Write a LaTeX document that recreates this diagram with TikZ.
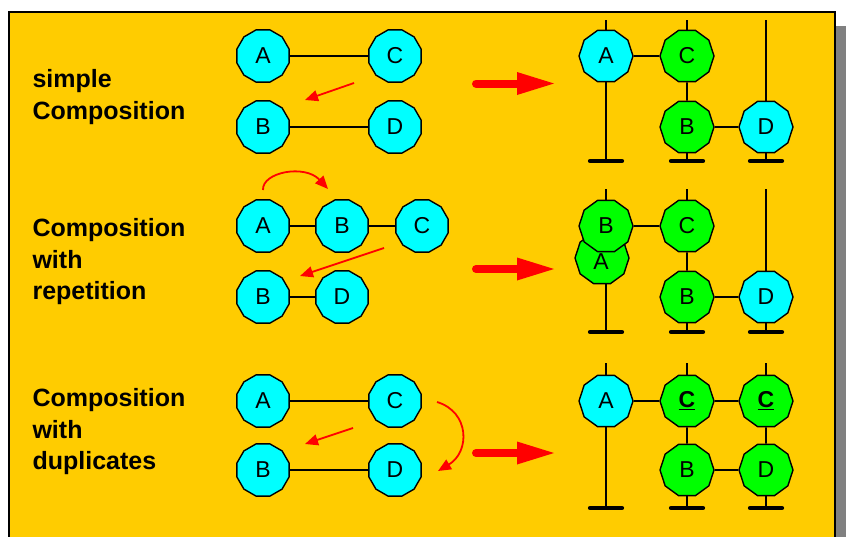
\documentclass[tikz,border=0pt]{standalone}
\usepackage{fontspec}
\setmainfont{Liberation Sans}
\usetikzlibrary{shapes.geometric,arrows.meta}
\definecolor{panel}{HTML}{FFCC00}
\definecolor{shadowgray}{HTML}{808080}
\definecolor{nodecyan}{HTML}{00FFFF}
\definecolor{nodegreen}{HTML}{00FF00}
\definecolor{arrowred}{HTML}{FF0000}
\tikzset{
  vertexL/.style={regular polygon, regular polygon sides=12, minimum size=54pt,
    inner sep=0pt, draw=black, line width=1.4pt, fill=nodecyan,
    font=\fontsize{23}{23}\selectfont},
  vertexR/.style={regular polygon, regular polygon sides=10, minimum size=54pt,
    inner sep=0pt, draw=black, line width=1.4pt, fill=nodecyan,
    font=\fontsize{23}{23}\selectfont},
  greenfill/.style={fill=nodegreen},
  link/.style={draw=black, line width=1.7pt},
  groundbar/.style={draw=black, line width=4.2pt, line cap=round},
  moveline/.style={draw=arrowred, line width=1.8pt,
    -{Triangle[length=13pt,width=11pt]}},
  rowlabel/.style={anchor=west, align=left,
    font=\fontsize{25}{31.5}\selectfont\bfseries},
}
\newcommand{\groundat}[1]{\draw[groundbar] ([xshift=-16pt]#1) -- ([xshift=16pt]#1);}
\newcommand{\bigarrow}[2]{%
  \draw[arrowred, line width=8pt, line cap=round] (#1) -- ([xshift=45pt]#1);
  \fill[arrowred] ([xshift=41pt,yshift=11.5pt]#1) -- ([xshift=78pt]#1)
    -- ([xshift=41pt,yshift=-11.5pt]#1) -- cycle;}
\begin{document}
\begin{tikzpicture}[x=1pt,y=-1pt]
\useasboundingbox (0,0) rectangle (846,536);
% panel with drop shadow
\fill[shadowgray] (19,26) rectangle (846,560);
\draw[fill=panel, line width=1.6pt] (9,12) rectangle (835,550);

% row labels
\node[rowlabel] (lab1) at (29,97) {simple\\Composition};
\node[rowlabel] (lab2) at (29,262) {Composition\\with\\repetition};
\node[rowlabel] (lab3) at (29,432) {Composition\\with\\duplicates};

% ---------- row 1: simple composition ----------
\node[vertexL] (p1a) at (263,56) {A};
\node[vertexL] (p1c) at (395,56) {C};
\node[vertexL] (p1b) at (263,127) {B};
\node[vertexL] (p1d) at (395,127) {D};
\draw[link] (p1a) -- (p1c);
\draw[link] (p1b) -- (p1d);
\coordinate (m1s) at (354,83);
\coordinate (m1e) at (305,100);
\draw[moveline] (m1s) -- (m1e);

\coordinate (b1) at (476,83.5);
\bigarrow{b1}

\node[vertexR] (q1a) at (606,56) {A};
\node[vertexR,greenfill] (q1c) at (687,56) {C};
\node[vertexR,greenfill] (q1b) at (687,127) {B};
\node[vertexR] (q1d) at (766,127) {D};
\coordinate (t1a) at (606,20);
\coordinate (t1c) at (687,20);
\coordinate (t1d) at (766,20);
\coordinate (g1a) at (606,161);
\coordinate (g1b) at (687,161);
\coordinate (g1d) at (766,161);
\draw[link] (t1a) -- (q1a);
\draw[link] (q1a) -- (g1a);
\draw[link] (q1a) -- (q1c);
\draw[link] (t1c) -- (q1c);
\draw[link] (q1c) -- (q1b);
\draw[link] (q1b) -- (q1d);
\draw[link] (q1b) -- (g1b);
\draw[link] (t1d) -- (q1d);
\draw[link] (q1d) -- (g1d);
\groundat{g1a}\groundat{g1b}\groundat{g1d}

% ---------- row 2: composition with repetition ----------
\node[vertexL] (p2a) at (263,226) {A};
\node[vertexL] (p2b) at (342,226) {B};
\node[vertexL] (p2c) at (422,226) {C};
\node[vertexL] (p2e) at (263,297) {B};
\node[vertexL] (p2d) at (342,297) {D};
\draw[link] (p2a) -- (p2b);
\draw[link] (p2b) -- (p2c);
\draw[link] (p2e) -- (p2d);
\coordinate (m2s) at (263,190);
\coordinate (m2e) at (328,189);
\draw[moveline] (m2s) .. controls (262,172) and (305,164) .. (m2e);
\coordinate (m3s) at (384,248);
\coordinate (m3e) at (300,276);
\draw[moveline] (m3s) -- (m3e);

\coordinate (b2) at (476,269);
\bigarrow{b2}

\node[vertexR,greenfill] (q2a) at (602,258) {};
\node[font=\fontsize{23}{23}\selectfont] (q2al) at (601,262) {A};
\node[vertexR,greenfill] (q2b) at (606,226) {B};
\node[vertexR,greenfill] (q2c) at (687,226) {C};
\node[vertexR,greenfill] (q2e) at (687,297) {B};
\node[vertexR] (q2d) at (766,297) {D};
\coordinate (t2a) at (606,189);
\coordinate (t2c) at (687,189);
\coordinate (t2d) at (766,189);
\coordinate (g2a) at (606,332);
\coordinate (g2e) at (687,332);
\coordinate (g2d) at (766,332);
\draw[link] (t2a) -- (q2b);
\draw[link] (g2a) -- (g2a |- q2a.south);
\draw[link] (q2b) -- (q2c);
\draw[link] (t2c) -- (q2c);
\draw[link] (q2c) -- (q2e);
\draw[link] (q2e) -- (q2d);
\draw[link] (q2e) -- (g2e);
\draw[link] (t2d) -- (q2d);
\draw[link] (q2d) -- (g2d);
\groundat{g2a}\groundat{g2e}\groundat{g2d}

% ---------- row 3: composition with duplicates ----------
\node[vertexL] (p3a) at (263,401) {A};
\node[vertexL] (p3c) at (395,401) {C};
\node[vertexL] (p3b) at (263,470) {B};
\node[vertexL] (p3d) at (395,470) {D};
\draw[link] (p3a) -- (p3c);
\draw[link] (p3b) -- (p3d);
\coordinate (m4s) at (353,428);
\coordinate (m4e) at (305,444);
\draw[moveline] (m4s) -- (m4e);
\coordinate (m5s) at (437,402);
\coordinate (m5e) at (438,471);
\draw[moveline] (m5s) .. controls (470,412) and (470,452) .. (m5e);

\coordinate (b3) at (476,453);
\bigarrow{b3}

\node[vertexR] (q3a) at (606,401) {A};
\node[vertexR,greenfill] (q3c) at (687,401) {\underline{\textbf{C}}};
\node[vertexR,greenfill] (q3x) at (766,401) {\underline{\textbf{C}}};
\node[vertexR,greenfill] (q3b) at (687,470) {B};
\node[vertexR,greenfill] (q3d) at (766,470) {D};
\coordinate (t3a) at (606,363);
\coordinate (t3c) at (687,363);
\coordinate (t3x) at (766,363);
\coordinate (g3a) at (606,508);
\coordinate (g3b) at (687,508);
\coordinate (g3d) at (766,508);
\draw[link] (t3a) -- (q3a);
\draw[link] (q3a) -- (g3a);
\draw[link] (q3a) -- (q3c);
\draw[link] (t3c) -- (q3c);
\draw[link] (q3c) -- (q3x);
\draw[link] (t3x) -- (q3x);
\draw[link] (q3c) -- (q3b);
\draw[link] (q3x) -- (q3d);
\draw[link] (q3b) -- (q3d);
\draw[link] (q3b) -- (g3b);
\draw[link] (q3d) -- (g3d);
\groundat{g3a}\groundat{g3b}\groundat{g3d}
\end{tikzpicture}
\end{document}
